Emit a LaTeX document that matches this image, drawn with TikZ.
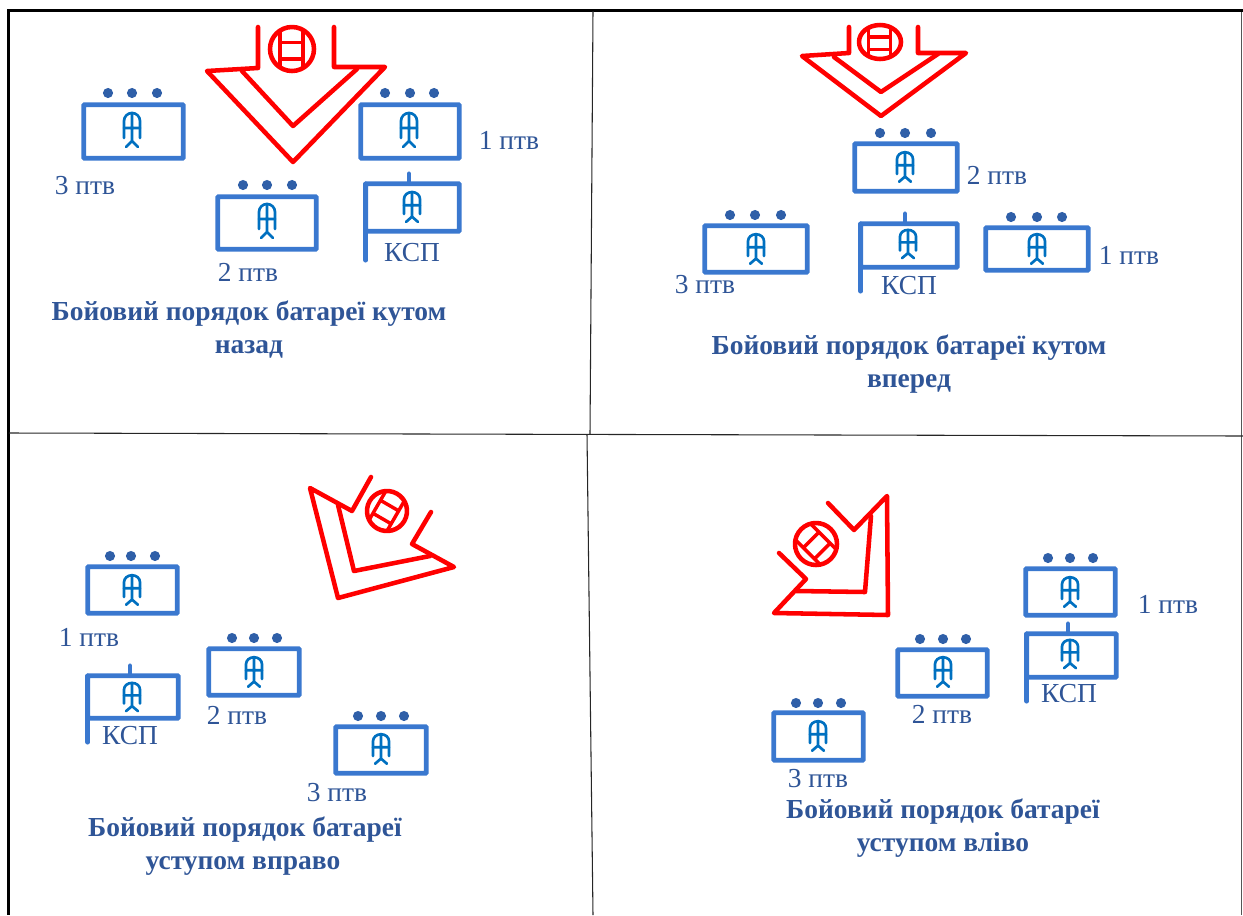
\documentclass[tikz,border=0pt]{standalone}
\usepackage{fontspec}
\setmainfont{Liberation Serif}
\definecolor{boxblue}{HTML}{3A78CF}
\definecolor{dotblue}{HTML}{2F5FA8}
\definecolor{iconblue}{HTML}{0070C0}
\definecolor{txtblue}{HTML}{2F5597}
\definecolor{redline}{HTML}{FF0000}
\definecolor{framegrey}{HTML}{555555}
\tikzset{
  frameline/.style={black!85,line width=0.8pt},
  frameside/.style={framegrey,line width=1pt},
  frameheavy/.style={black,line width=2pt},
  unitbox/.style={draw=boxblue,line width=3.4pt,rectangle,inner sep=0pt,outer sep=0pt,rounded corners=0.5pt},
  pole/.style={draw=boxblue,line width=3.4pt,line cap=round},
  gundot/.style={circle,fill=dotblue,inner sep=0pt,minimum size=7.6pt},
  iconline/.style={draw=iconblue,line width=2pt,line cap=round,line join=round},
  redstroke/.style={draw=redline,line width=3.4pt,line cap=round,line join=round},
  unitlabel/.style={text=txtblue,font=\fontsize{20.6}{22}\selectfont,inner sep=0pt,anchor=base},
  titlelabel/.style={text=txtblue,font=\fontsize{20.6}{22}\selectfont\bfseries,inner sep=0pt,anchor=base},
}
% name, left, top, right, bottom (px); the stroke reaches 1.5 px beyond these
\newcommand{\unitframe}[5]{%
  \node[unitbox,anchor=north west,minimum width={(#4-#2-1.5)*0.75pt},minimum height={(#5-#3-1.5)*0.75pt}] (#1) at (#2+0.75,#3+0.75) {};}
% [vertical scale] icon centred at x,y
\newcommand{\gunicon}[3][1]{%
  \begin{scope}[shift={(#2,#3)},yscale=#1]
    \draw[iconline] (-8,8) -- (-8,-9) .. controls (-8,-13.5) and (-4.4,-17) .. (0,-17) .. controls (4.4,-17) and (8,-13.5) .. (8,-9) -- (8,8);
    \draw[iconline] (0,-17) -- (0,11) (-8,-2) -- (8,-2) (-6,17) -- (0,11) -- (6,17);
  \end{scope}}
% three dots: name, x1, x2, x3, y
\newcommand{\gundots}[5]{%
  \node[gundot] (#1a) at (#2,#5) {};
  \node[gundot] (#1b) at (#3,#5) {};
  \node[gundot] (#1c) at (#4,#5) {};}
% red target circle: cx, cy, rotation, rx, ry
\newcommand{\redmark}[5]{%
  \begin{scope}[shift={(#1,#2)},rotate=#3]
    \draw[redstroke] (0,0) circle[x radius=#4,y radius=#5];
    \draw[redstroke,line width=2.6pt,line cap=butt] (-#4*0.55,-#5*0.83) -- (-#4*0.55,#5*0.83) (#4*0.5,-#5*0.85) -- (#4*0.5,#5*0.85)
      (-#4*0.55,-#5*0.3) -- (#4*0.5,-#5*0.3) (-#4*0.55,#5*0.45) -- (#4*0.5,#5*0.45);
  \end{scope}}
\begin{document}
\begin{tikzpicture}[x=0.75pt,y=-0.75pt]
\useasboundingbox (0,0) rectangle (1243,915);
% frame
\coordinate (tl) at (8.7,10.3); \coordinate (tr) at (1243,10.3);
\coordinate (bl) at (8.7,915);
\coordinate (sr) at (1241.5,10.3); \coordinate (sb) at (1241.5,915);
\coordinate (mlt) at (593,11); \coordinate (mlm) at (590,434);
\coordinate (mrm) at (587,434); \coordinate (mrb) at (593,915);
\coordinate (hl) at (9,433); \coordinate (hr) at (1243,436);
\draw[frameside] (sr) -- (sb);
\draw[frameheavy] (tr) -- (tl) -- (bl);
\draw[frameline] (mlt) -- (mlm);
\draw[frameline] (hl) -- (hr);
\draw[frameline] (mrm) -- (mrb);

% ---------- panel 1
\unitframe{aone}{360}{104}{460}{159}\gundots{aoned}{385}{410}{434}{93}\gunicon{409}{130}
\unitframe{atwo}{217}{196}{317}{250}\gundots{atwod}{243}{267}{292}{185}\gunicon{267}{221}
\unitframe{athree}{83}{104}{184}{159}\gundots{athreed}{108}{132}{157}{93}\gunicon{132}{130}
\unitframe{aksp}{365}{183}{460}{232}\gunicon[0.88]{412}{207}
\draw[pole] (aksp.north west) -- (aksp.south west) -- ++(0,29);
\draw[pole] (aksp.north) ++(-3.5,0) -- ++(0,-10);
\node[unitlabel] (la1) at (509,149) {1 птв};
\node[unitlabel] (la2) at (248,281) {2 птв};
\node[unitlabel] (la3) at (85,194) {3 птв};
\node[unitlabel] (lak) at (412,261) {КСП};
\node[titlelabel] (ta1) at (249,320) {Бойовий порядок батареї кутом};
\node[titlelabel] (ta2) at (249,353) {назад};
\draw[redstroke] (258,27) -- (258,68) -- (207,71) -- (293,162) -- (385,67) -- (334,67) -- (334,27);
\draw[redstroke] (242,71) -- (293,126) -- (357,69);
\redmark{292}{49}{0}{22}{22}

% ---------- panel 2
\unitframe{bone}{985}{227}{1089}{271}\gundots{boned}{1011}{1037}{1062}{217}\gunicon[0.87]{1037}{249}
\unitframe{btwo}{854}{143}{958}{192}\gundots{btwod}{880}{905}{931}{133}\gunicon[0.87]{905}{167}
\unitframe{bthree}{704}{225}{808}{273}\gundots{bthreed}{730}{755}{781}{215}\gunicon[0.87]{756}{249}
\unitframe{bksp}{860}{223}{958}{268}\gunicon[0.83]{908}{244}
\draw[pole] (bksp.north west) -- (bksp.south west) -- ++(0,24);
\draw[pole] (bksp.north) ++(-4,0) -- ++(0,-10);
\node[unitlabel] (lb1) at (1129,264) {1 птв};
\node[unitlabel] (lb2) at (997,184) {2 птв};
\node[unitlabel] (lb3) at (705,293) {3 птв};
\node[unitlabel] (lbk) at (909,294) {КСП};
\node[titlelabel] (tb1) at (909,354) {Бойовий порядок батареї кутом};
\node[titlelabel] (tb2) at (909,387) {вперед};
\draw[redstroke] (849,27) -- (849,53) -- (802,56) -- (881,116) -- (966,53) -- (918,53) -- (918,27);
\draw[redstroke] (834,57) -- (881,92) -- (938,54);
\redmark{880}{42}{0}{21}{17}

% ---------- panel 3
\unitframe{cone}{87}{566}{178}{614}\gundots{coned}{110}{131}{155}{556}\gunicon[0.87]{132}{590}
\unitframe{ctwo}{208}{648}{300}{696}\gundots{ctwod}{232}{254}{277}{638}\gunicon[0.87]{254}{672}
\unitframe{cthree}{335}{726}{427}{774}\gundots{cthreed}{358}{381}{404}{716}\gunicon[0.87]{381}{749}
\unitframe{cksp}{87}{675}{179}{719}\gunicon[0.83]{132}{697}
\draw[pole] (cksp.north west) -- (cksp.south west) -- ++(0,24);
\draw[pole] (cksp.north) ++(-3,0) -- ++(0,-10);
\node[unitlabel] (lc1) at (89,646) {1 птв};
\node[unitlabel] (lc2) at (237,724) {2 птв};
\node[unitlabel] (lc3) at (337,801) {3 птв};
\node[unitlabel] (lck) at (130,744) {КСП};
\node[titlelabel] (tc1) at (245,836) {Бойовий порядок батареї};
\node[titlelabel] (tc2) at (243,869) {уступом вправо};
\draw[redstroke] (371,477) -- (352,511) -- (310,488) -- (338,598) -- (454,567) -- (412,544) -- (431,512);
\draw[redstroke] (338,505) -- (354,571) -- (430,556);
\redmark{387}{511}{-30}{20}{20}

% ---------- panel 4
\unitframe{done}{1025}{568}{1116}{616}\gundots{doned}{1048}{1070}{1093}{558}\gunicon[0.87]{1070}{592}
\unitframe{dtwo}{897}{649}{988}{697}\gundots{dtwod}{920}{943}{966}{639}\gunicon[0.87]{943}{672}
\unitframe{dthree}{773}{712}{864}{761}\gundots{dthreed}{796}{818}{841}{703}\gunicon[0.87]{818}{736}
\unitframe{dksp}{1026}{633}{1117}{678}\gunicon[0.83]{1070}{654}
\draw[pole] (dksp.north west) -- (dksp.south west) -- ++(0,24);
\draw[pole] (dksp.north) ++(-3.5,0) -- ++(0,-10);
\node[unitlabel] (ld1) at (1168,613) {1 птв};
\node[unitlabel] (ld2) at (942,723) {2 птв};
\node[unitlabel] (ld3) at (818,787) {3 птв};
\node[unitlabel] (ldk) at (1069,702) {КСП};
\node[titlelabel] (td1) at (943,818) {Бойовий порядок батареї};
\node[titlelabel] (td2) at (943,851) {уступом вліво};
\draw[redstroke] (828,503) -- (854,530) -- (887,496) -- (888,615) -- (774,613) -- (806,579) -- (779,553);
\draw[redstroke] (871,516) -- (865,592) -- (796,591);
\redmark{816}{544}{45}{21}{21}
\end{tikzpicture}
\end{document}
